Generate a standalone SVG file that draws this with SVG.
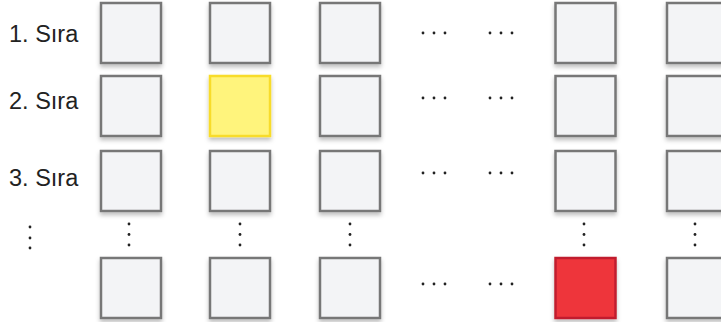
<svg xmlns="http://www.w3.org/2000/svg" width="721" height="322" viewBox="0 0 721 322">
<defs>
<filter id="sh" x="-20%" y="-20%" width="140%" height="150%">
<feDropShadow dx="0" dy="3" stdDeviation="2" flood-color="#000" flood-opacity="0.25"/>
</filter>
<style>
.b{fill:#f3f4f6;stroke:#777;stroke-width:2.5;filter:url(#sh)}
.y{fill:#fff47c;stroke:#f8dc2a;stroke-width:2.5;filter:url(#sh)}
.r{fill:#ee343b;stroke:#c11f2e;stroke-width:2.5;filter:url(#sh)}
.t{font-family:"Liberation Sans",Arial,sans-serif;font-size:23.5px;fill:#222}
.d{fill:#222}
</style>
</defs>
<g id="labels">
<text class="t" x="9" y="42">1. Sıra</text>
<text class="t" x="9" y="109">2. Sıra</text>
<text class="t" x="9" y="186">3. Sıra</text>
</g>
<g id="row1">
<rect class="b" x="101" y="3" width="60" height="60"/>
<rect class="b" x="210" y="3" width="60" height="60"/>
<rect class="b" x="320" y="3" width="60" height="60"/>
<rect class="b" x="555.5" y="3" width="60" height="60"/>
<rect class="b" x="667" y="3" width="60" height="60"/>
</g>
<g id="row2">
<rect class="b" x="101" y="76" width="60" height="60"/>
<rect class="y" x="210" y="76" width="60" height="60"/>
<rect class="b" x="320" y="76" width="60" height="60"/>
<rect class="b" x="555.5" y="76" width="60" height="60"/>
<rect class="b" x="667" y="76" width="60" height="60"/>
</g>
<g id="row3">
<rect class="b" x="101" y="151" width="60" height="60"/>
<rect class="b" x="210" y="151" width="60" height="60"/>
<rect class="b" x="320" y="151" width="60" height="60"/>
<rect class="b" x="555.5" y="151" width="60" height="60"/>
<rect class="b" x="667" y="151" width="60" height="60"/>
</g>
<g id="row4">
<rect class="b" x="101" y="258" width="60" height="60"/>
<rect class="b" x="210" y="258" width="60" height="60"/>
<rect class="b" x="320" y="258" width="60" height="60"/>
<rect class="r" x="555.5" y="258" width="60" height="60"/>
<rect class="b" x="667" y="258" width="60" height="60"/>
</g>
<g id="hdots" class="d">
<g id="hd1" transform="translate(0,33)"><circle cx="423" cy="0" r="1.4"/><circle cx="434" cy="0" r="1.4"/><circle cx="445" cy="0" r="1.4"/><circle cx="490" cy="0" r="1.4"/><circle cx="501" cy="0" r="1.4"/><circle cx="512" cy="0" r="1.4"/></g>
<g id="hd2" transform="translate(0,98)"><circle cx="423" cy="0" r="1.4"/><circle cx="434" cy="0" r="1.4"/><circle cx="445" cy="0" r="1.4"/><circle cx="490" cy="0" r="1.4"/><circle cx="501" cy="0" r="1.4"/><circle cx="512" cy="0" r="1.4"/></g>
<g id="hd3" transform="translate(0,173)"><circle cx="423" cy="0" r="1.4"/><circle cx="434" cy="0" r="1.4"/><circle cx="445" cy="0" r="1.4"/><circle cx="490" cy="0" r="1.4"/><circle cx="501" cy="0" r="1.4"/><circle cx="512" cy="0" r="1.4"/></g>
<g id="hd4" transform="translate(0,284)"><circle cx="423" cy="0" r="1.4"/><circle cx="434" cy="0" r="1.4"/><circle cx="445" cy="0" r="1.4"/><circle cx="490" cy="0" r="1.4"/><circle cx="501" cy="0" r="1.4"/><circle cx="512" cy="0" r="1.4"/></g>
</g>
<g id="vdots" class="d">
<circle cx="30" cy="227" r="1.4"/><circle cx="30" cy="238" r="1.4"/><circle cx="30" cy="248" r="1.4"/>
<circle cx="129" cy="224" r="1.4"/><circle cx="129" cy="234.5" r="1.4"/><circle cx="129" cy="245" r="1.4"/>
<circle cx="240" cy="224" r="1.4"/><circle cx="240" cy="234.5" r="1.4"/><circle cx="240" cy="245" r="1.4"/>
<circle cx="350" cy="224" r="1.4"/><circle cx="350" cy="234.5" r="1.4"/><circle cx="350" cy="245" r="1.4"/>
<circle cx="584" cy="224" r="1.4"/><circle cx="584" cy="234.5" r="1.4"/><circle cx="584" cy="245" r="1.4"/>
<circle cx="695" cy="224" r="1.4"/><circle cx="695" cy="234.5" r="1.4"/><circle cx="695" cy="245" r="1.4"/>
</g>
</svg>
